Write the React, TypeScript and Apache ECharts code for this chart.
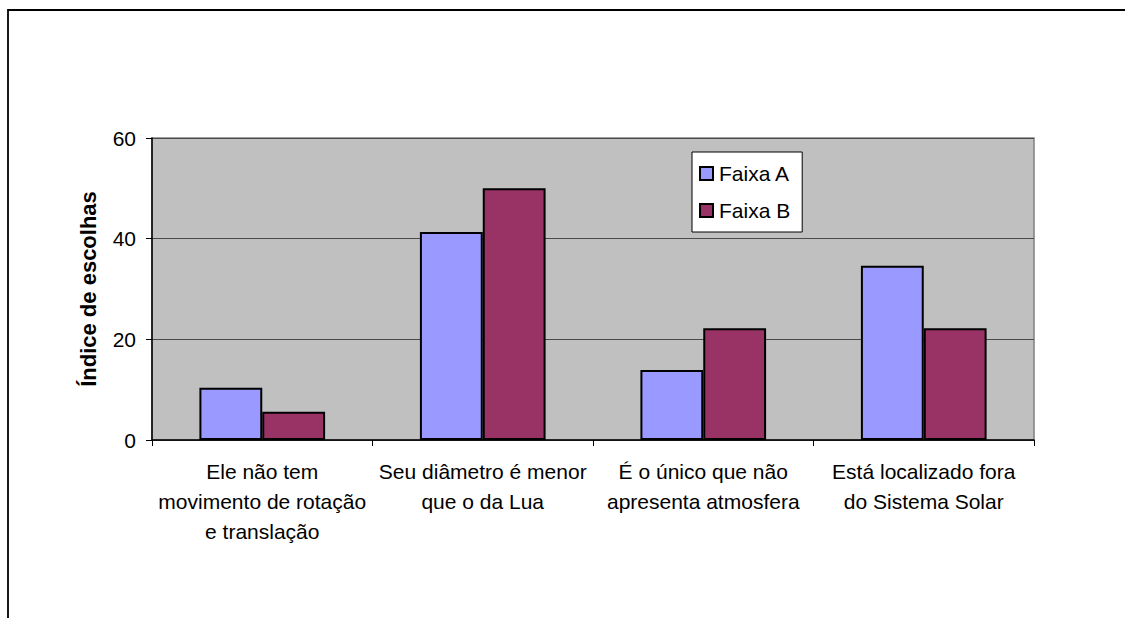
import React, { useEffect, useRef } from "react";
import * as echarts from "echarts";

const categories = [
  "Ele não tem\nmovimento de rotação\ne translação",
  "Seu diâmetro é menor\nque o da Lua",
  "É o único que não\napresenta atmosfera",
  "Está localizado fora\ndo Sistema Solar",
];
const faixaA = [10.4, 41.3, 13.9, 34.6];
const faixaB = [5.6, 50.0, 22.2, 22.2];
const yTicks = { min: 0, max: 60, interval: 20 };

const FONT = "Arial, 'Liberation Sans', sans-serif";

export default function App() {
  const ref = useRef<HTMLDivElement>(null);
  useEffect(() => {
    if (!ref.current) return;
    const chart = echarts.init(ref.current, null, { renderer: "svg" });
    chart.setOption({
      animation: false,
      backgroundColor: "#ffffff",
      textStyle: { fontFamily: FONT },
      graphic: [
        {
          type: "rect",
          shape: { x: 8, y: 10, width: 1140, height: 640 },
          style: { fill: "none", stroke: "#000", lineWidth: 1.8 },
          silent: true,
        },
      ],
      grid: {
        left: 152,
        top: 138,
        right: 91,
        bottom: 178,
        show: true,
        backgroundColor: "#C0C0C0",
        borderColor: "#808080",
        borderWidth: 1.5,
      },
      legend: {
        orient: "vertical",
        left: 692,
        top: 152,
        backgroundColor: "#ffffff",
        borderColor: "#000",
        borderWidth: 1,
        borderRadius: 0,
        padding: [11, 12, 11, 7],
        itemGap: 16,
        itemWidth: 13,
        itemHeight: 13,
        icon: "rect",
        textStyle: { fontSize: 21, color: "#000", fontFamily: FONT, padding: [0, 0, 0, 1] },
        data: ["Faixa A", "Faixa B"],
      },
      xAxis: {
        type: "category",
        data: categories,
        axisLine: { lineStyle: { color: "#000", width: 1.5 } },
        axisTick: { show: true, length: 6, lineStyle: { color: "#000" } },
        axisLabel: {
          interval: 0,
          fontSize: 21,
          color: "#000",
          lineHeight: 30,
          margin: 16,
          fontFamily: FONT,
        },
      },
      yAxis: {
        type: "value",
        min: yTicks.min,
        max: yTicks.max,
        interval: yTicks.interval,
        name: "Índice de escolhas",
        nameLocation: "middle",
        nameRotate: 90,
        nameGap: 53,
        nameTextStyle: { fontSize: 22, fontWeight: "bold", color: "#000", fontFamily: FONT },
        axisLine: { show: true, lineStyle: { color: "#000", width: 1.5 } },
        axisTick: { show: true, length: 6, lineStyle: { color: "#000" } },
        axisLabel: { fontSize: 21, color: "#000", margin: 16, fontFamily: FONT },
        splitLine: { show: true, lineStyle: { color: "#4a4a4a", width: 1 } },
      },
      series: [
        {
          name: "Faixa A",
          type: "bar",
          data: faixaA,
          barGap: "0%",
          barCategoryGap: "43%",
          itemStyle: { color: "#9999FF", borderColor: "#000", borderWidth: 2 },
        },
        {
          name: "Faixa B",
          type: "bar",
          data: faixaB,
          barGap: "0%",
          barCategoryGap: "43%",
          itemStyle: { color: "#993366", borderColor: "#000", borderWidth: 2 },
        },
      ],
    });
    return () => chart.dispose();
  }, []);
  return (
    <div
      ref={ref}
      style={{ position: "absolute", left: 0, top: 0, width: 1125, height: 618 }}
    />
  );
}
